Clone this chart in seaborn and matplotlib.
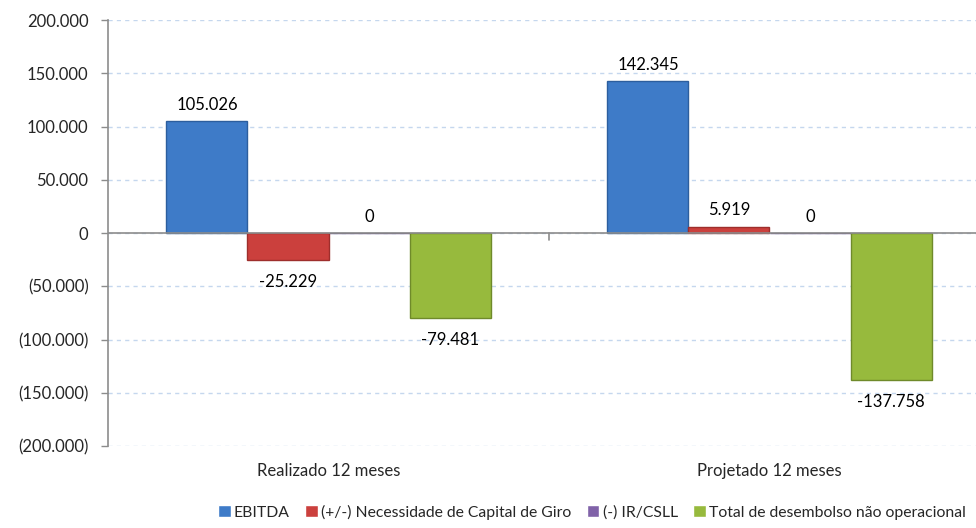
import matplotlib
matplotlib.use("Agg")
import matplotlib.pyplot as plt
import seaborn as sns
import pandas as pd
from matplotlib.ticker import FuncFormatter

categories = ["Realizado 12 meses", "Projetado 12 meses"]
series = ["EBITDA", "(+/-) Necessidade de Capital de Giro", "(-) IR/CSLL",
          "Total de desembolso não operacional"]
ebitda = [105026, 142345]
capital_giro = [-25229, 5919]
ir_csll = [0, 0]
desembolso = [-79481, -137758]
colors = ["#3E7BC8", "#CB403D", "#8062A8", "#97BA3D"]
edge_colors = ["#2C5E9E", "#9E2E2C", "#5E4680", "#6F8A2A"]

rows = []
for s, vals in zip(series, [ebitda, capital_giro, ir_csll, desembolso]):
    for c, v in zip(categories, vals):
        rows.append({"Categoria": c, "Série": s, "Valor": v})
df = pd.DataFrame(rows)

sns.set_style("white")
plt.rcParams["font.family"] = ["Lato", "DejaVu Sans"]
FS = 12

fig = plt.figure(figsize=(9.76, 5.28), dpi=100)
ax = fig.add_axes([108 / 976, 1 - 446 / 528, 1 - 108 / 976, (446 - 20) / 528])

sns.barplot(data=df, x="Categoria", y="Valor", hue="Série", order=categories,
            hue_order=series, palette=colors, width=0.735, ax=ax,
            saturation=1, legend=True, zorder=3)

def thous(v):
    return f"{abs(v):,.0f}".replace(",", ".")

for cont, ec in zip(ax.containers, edge_colors):
    for bar in cont:
        bar.set_edgecolor(ec)
        bar.set_linewidth(1.0)
    hs = [bar.get_height() for bar in cont]
    pos_labels = [thous(h) if h >= 0 else "" for h in hs]
    neg_labels = ["-" + thous(h) if h < 0 else "" for h in hs]
    ax.bar_label(cont, labels=pos_labels, padding=6, fontsize=FS, color="#000000")
    ax.bar_label(cont, labels=neg_labels, padding=10, fontsize=FS, color="#000000")

ax.set_ylim(-200000, 200000)
ax.set_xlim(-0.5, -0.5 + 868 / 441)
ax.set_yticks(range(-200000, 200001, 50000))
ax.yaxis.set_major_formatter(FuncFormatter(
    lambda v, p: "0" if v == 0 else (thous(v) if v > 0 else f"({thous(v)})")))
ax.grid(axis="y", color="#C5D7EE", linestyle=(0, (3, 3)), linewidth=1, zorder=0)
ax.set_axisbelow(True)
ax.axhline(0, color="#8C8C8C", linewidth=1.2, zorder=4)
ax.plot([0.5, 0.5], [0, -7000], color="#8C8C8C", linewidth=1.2, zorder=4,
        clip_on=False)

for sp in ["top", "right", "bottom"]:
    ax.spines[sp].set_visible(False)
ax.spines["left"].set_color("#8C8C8C")
ax.spines["left"].set_linewidth(1.2)
ax.tick_params(axis="y", which="major", length=5, color="#8C8C8C", width=1,
               labelsize=FS, pad=9, left=True)
ax.tick_params(axis="x", length=0, labelsize=FS, pad=12)
ax.set_xlabel("")
ax.set_ylabel("")

handles, labs = ax.get_legend_handles_labels()
ax.legend_.remove()
fig.legend(handles, labs, loc="center", bbox_to_anchor=(592 / 976, 1 - 512 / 528),
           ncol=4, frameon=False, fontsize=11.3, handlelength=0.8,
           handleheight=0.8, handletextpad=0.2, columnspacing=1.0)

fig.savefig("out.png", dpi=100)
